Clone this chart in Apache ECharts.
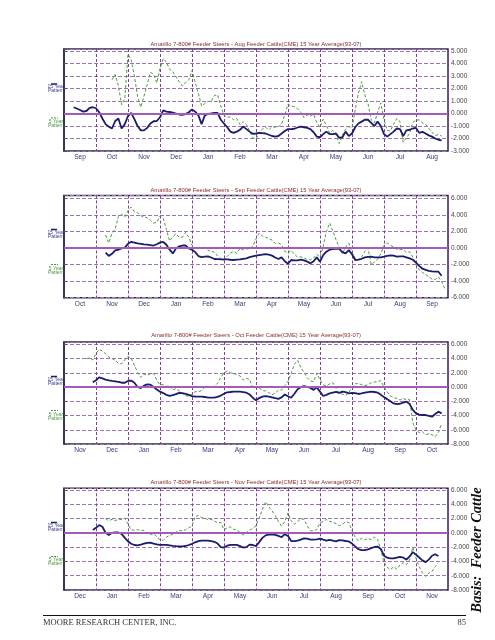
<!DOCTYPE html>
<html><head><meta charset="utf-8">
<script src="https://cdn.jsdelivr.net/npm/echarts@6.0.0/dist/echarts.min.js"></script>
<style>html,body{margin:0;padding:0;background:#fff}#c{width:495px;height:640px}</style>
</head><body><div id="c"></div>
<script>
// ---- DATA ----
const STEP = 0.1; // observation spacing, in months of the contract season
const monthsAug = ['Sep','Oct','Nov','Dec','Jan','Feb','Mar','Apr','May','Jun','Jul','Aug'];
const monthsSep = ['Oct','Nov','Dec','Jan','Feb','Mar','Apr','May','Jun','Jul','Aug','Sep'];
const monthsOct = ['Nov','Dec','Jan','Feb','Mar','Apr','May','Jun','Jul','Aug','Sep','Oct'];
const monthsNov = ['Dec','Jan','Feb','Mar','Apr','May','Jun','Jul','Aug','Sep','Oct','Nov'];
const titles = [
  'Amarillo 7-800# Feeder Steers - Aug Feeder Cattle(CME) 15 Year Average(93-07)',
  'Amarillo 7-800# Feeder Steers - Sep Feeder Cattle(CME) 15 Year Average(93-07)',
  'Amarillo 7-800# Feeder Steers - Oct Feeder Cattle(CME) 15 Year Average(93-07)',
  'Amarillo 7-800# Feeder Steers - Nov Feeder Cattle(CME) 15 Year Average(93-07)'
];
const legend15 = ['15 Year', 'Pattern'];
const legend5 = ['5 Year', 'Pattern'];

// series start (month offset) and values
const aug15Start = 0.3;
const aug15 = [0.5,0.4,0.28,0.15,0.2,0.45,0.5,0.42,0.1,-0.4,
 -0.85,-1.05,-1.2,-0.6,-0.4,-1.2,-0.85,-0.2,0.05,-0.45,
 -1.0,-1.35,-1.35,-1.15,-0.8,-0.62,-0.6,-0.3,0.25,0.15,
 0.12,0.07,0.0,-0.08,-0.1,-0.05,0.1,0.33,0.15,-0.15,
 -0.85,-0.15,-0.03,0.0,0.05,0.05,-0.5,-0.8,-1.1,-1.45,
 -1.55,-1.45,-1.3,-1.05,-1.25,-1.45,-1.62,-1.6,-1.55,-1.57,
 -1.6,-1.7,-1.8,-1.85,-1.8,-1.6,-1.4,-1.25,-1.25,-1.22,
 -1.12,-1.05,-1.1,-1.15,-1.25,-1.5,-1.85,-1.9,-1.65,-1.45,
 -1.65,-1.65,-1.6,-1.95,-1.9,-1.45,-1.8,-1.6,-1.1,-0.8,
 -0.65,-0.5,-0.5,-0.75,-1.0,-0.65,-1.0,-1.65,-1.85,-1.65,
 -1.45,-1.2,-1.25,-1.8,-1.35,-1.3,-1.2,-1.15,-1.55,-1.47,
 -1.6,-1.75,-1.85,-2.0,-2.1,-2.15];
const aug5Start = 1.5;
const aug5 = [2.7,3.13,2.2,0.7,1.2,4.75,4.3,3.0,1.35,0.5,
 1.4,2.3,3.3,3.15,2.45,3.6,4.4,4.1,3.55,3.35,
 2.95,2.55,2.2,2.47,2.7,3.45,2.5,1.6,0.6,0.8,
 0.97,0.95,1.45,1.5,0.6,-0.15,-0.3,-0.28,-0.5,-0.4,
 -0.9,-0.65,-0.88,-1.4,-1.95,-2.05,-1.5,-1.25,-1.1,-1.3,
 -1.05,-1.1,-1.05,-0.85,-0.1,0.75,0.6,0.55,0.38,0.1,
 -0.35,-0.12,-0.2,-0.05,-0.75,-1.1,-0.45,-0.95,-1.55,-1.35,
 -1.7,-2.4,-1.7,-1.25,-1.05,-1.15,0.3,1.6,2.55,1.5,
 0.8,-0.5,-0.75,0.1,0.85,-0.5,-1.35,-1.4,-0.85,-0.4,
 -0.65,-2.3,-1.95,-1.6,-0.7,-0.55,-0.5,-0.75,-0.85,-1.2,
 -1.5,-1.75,-1.7,-1.8];
const sep15Start = 1.3;
const sep15 = [-0.56,-0.95,-0.7,-0.3,-0.2,-0.05,0.05,0.5,0.75,0.65,
 0.55,0.5,0.43,0.4,0.35,0.3,0.45,0.65,0.73,0.4,
 -0.2,-0.65,-0.05,0.2,0.3,0.3,-0.05,-0.2,-0.5,-0.97,
 -1.1,-1.05,-1.0,-1.15,-1.33,-1.35,-1.37,-1.37,-1.38,-1.42,
 -1.45,-1.4,-1.37,-1.3,-1.25,-1.1,-1.0,-0.92,-0.85,-0.8,
 -0.75,-0.8,-0.92,-1.15,-1.33,-1.13,-1.6,-1.9,-1.45,-1.5,
 -1.5,-1.4,-1.5,-1.65,-1.85,-1.6,-1.13,-1.65,-0.85,-0.45,
 -0.2,-0.12,-0.08,-0.1,-0.5,-0.65,-0.25,-0.75,-1.45,-1.4,
 -1.3,-1.13,-1.08,-1.05,-1.13,-1.13,-1.13,-1.05,-0.95,-0.88,
 -0.92,-1.05,-1.0,-1.0,-1.12,-1.25,-1.42,-1.75,-2.15,-2.5,
 -2.65,-2.75,-2.82,-2.86,-2.86,-3.35];
const sep5Start = 1.3;
const sep5 = [1.57,0.6,1.8,2.3,3.79,4.07,3.75,4.5,4.95,4.4,
 4.25,3.9,3.75,3.65,3.35,3.0,3.1,3.9,3.59,2.25,
 0.85,1.37,1.7,1.3,1.3,1.9,1.3,0.3,0.0,0.16,
 -0.04,0.1,-0.3,-0.4,-0.5,-0.95,-1.3,-1.5,-1.0,-0.6,
 -0.4,-0.65,-0.04,-0.24,-0.1,-0.1,0.2,1.1,1.8,1.45,
 1.3,1.15,0.95,0.56,0.6,0.4,-0.4,-0.6,-0.3,-0.75,
 -1.1,-1.07,-1.2,-1.4,-1.43,-1.2,-0.75,-1.1,0.2,2.0,
 3.0,2.1,1.0,0.1,-0.7,0.1,0.6,-0.55,-1.27,-1.45,
 -1.05,-0.4,0.0,-2.0,-1.7,-1.35,-0.7,0.3,0.6,0.35,
 0.1,-0.15,-0.15,-0.2,-0.55,-0.45,-1.1,-2.0,-2.65,-2.95,
 -3.2,-3.47,-3.75,-3.8,-3.5,-4.07,-4.88];
const oct15Start = 0.9;
const oct15 = [0.66,0.95,1.35,1.2,1.05,0.93,0.86,0.8,0.72,0.6,
 0.6,0.85,0.9,0.6,0.0,-0.15,0.2,0.38,0.34,0.0,
 -0.35,-0.65,-0.85,-1.1,-1.24,-1.14,-1.0,-0.82,-0.87,-0.96,
 -1.1,-1.27,-1.33,-1.36,-1.36,-1.4,-1.5,-1.5,-1.5,-1.38,
 -1.2,-0.95,-0.74,-0.7,-0.65,-0.65,-0.65,-0.72,-0.8,-1.05,
 -1.5,-1.87,-1.55,-1.35,-1.27,-1.35,-1.45,-1.57,-1.67,-1.45,
 -1.05,-1.3,-1.5,-0.95,-0.3,-0.02,0.12,0.02,-0.12,-0.4,
 -0.05,-0.65,-1.26,-1.1,-0.9,-0.78,-0.67,-0.83,-0.65,-0.72,
 -0.89,-0.82,-0.87,-0.98,-0.9,-0.8,-0.72,-0.66,-0.7,-0.78,
 -1.1,-1.42,-1.7,-2.0,-2.3,-2.4,-2.35,-2.2,-2.05,-2.4,
 -3.2,-3.7,-3.88,-3.93,-3.93,-4.05,-4.17,-3.79,-3.46,-3.7];
const oct5Start = 0.7;
const oct5 = [4.0,4.05,3.8,4.7,5.27,5.05,4.65,4.22,4.0,3.77,
 3.32,3.25,3.8,4.3,4.0,3.05,2.05,1.35,1.8,1.65,
 1.85,1.9,0.98,0.3,0.33,0.08,0.2,-0.42,-0.22,-0.55,
 -0.9,-1.2,-1.33,-1.05,-0.65,-0.65,-0.5,-0.05,-0.05,-0.1,
 0.1,0.55,1.35,2.0,2.25,2.0,1.9,1.78,1.55,0.98,
 1.2,1.1,-0.2,-0.05,-0.15,-0.5,-0.55,-0.8,-1.1,-0.85,
 -0.42,-0.42,0.2,0.8,1.9,3.2,3.75,2.75,2.05,1.3,
 0.85,0.75,1.92,1.0,0.3,0.15,0.45,0.6,-0.2,-0.9,
 -1.0,-1.2,-0.8,0.0,0.45,0.5,0.32,0.2,0.3,0.6,
 0.7,0.75,0.9,0.0,-0.7,-1.25,-1.5,-1.59,-1.83,-1.59,
 -1.8,-1.75,-5.0,-6.04,-6.4,-6.28,-6.7,-6.55,-6.7,-6.95,
 -6.4,-5.1];
const nov15Start = 0.9;
const nov15 = [0.4,0.7,1.08,0.85,0.0,-0.3,0.0,0.05,0.05,-0.14,
 -0.7,-1.18,-1.52,-1.7,-1.76,-1.65,-1.5,-1.4,-1.37,-1.5,
 -1.6,-1.69,-1.69,-1.69,-1.75,-1.82,-1.87,-1.91,-1.88,-1.84,
 -1.7,-1.53,-1.32,-1.15,-1.08,-1.08,-1.08,-1.15,-1.25,-1.5,
 -2.0,-2.05,-1.8,-1.69,-1.69,-1.69,-1.85,-2.05,-2.0,-1.65,
 -1.7,-1.85,-1.3,-0.7,-0.35,-0.25,-0.2,-0.28,-0.42,-0.61,
 -0.18,-0.45,-1.15,-1.15,-1.09,-0.95,-0.78,-0.82,-0.95,-0.95,
 -0.9,-0.8,-0.95,-1.08,-0.98,-1.1,-1.2,-1.02,-1.05,-1.14,
 -1.2,-1.5,-1.9,-2.29,-2.42,-2.42,-2.3,-2.13,-1.98,-1.92,
 -2.25,-3.2,-3.48,-3.56,-3.56,-3.45,-3.35,-3.46,-3.75,-3.3,
 -2.7,-3.05,-3.45,-3.85,-4.1,-3.75,-3.2,-3.0,-3.25];
const nov5Start = 1.3;
const nov5 = [2.0,1.7,1.9,1.7,1.92,1.85,2.05,1.25,0.4,0.38,
 0.45,0.35,0.35,-0.1,-0.25,-0.1,-0.51,-0.98,-1.05,-0.6,
 -0.35,-0.2,0.1,0.35,0.25,0.45,0.68,1.0,2.3,2.43,
 2.15,2.07,1.85,1.9,1.65,1.42,1.45,0.45,0.7,0.85,
 0.5,0.42,0.05,-0.28,0.02,0.38,0.62,1.0,2.1,3.3,
 4.35,3.65,3.1,2.45,1.6,0.95,1.6,2.8,1.7,1.2,
 1.6,1.95,1.9,1.0,0.3,0.3,0.47,1.4,1.6,1.88,
 1.62,1.48,1.3,1.0,1.2,1.55,1.45,0.3,-0.6,-1.12,
 -0.75,-0.98,-0.77,-0.95,-0.6,-0.9,-2.39,-4.1,-4.8,-5.15,
 -4.75,-5.1,-4.49,-4.17,-4.45,-3.8,-2.0,-3.56,-4.73,-5.6,
 -6.1,-5.63,-5.4,-4.73,-4.2];

// ---- LAYOUT / STYLE ----
const panels = [
  {months: monthsAug, p15: aug15, s15: aug15Start, p5: aug5, s5: aug5Start, min:-3, max:5.16, interval:1, top:49, height:102, titleY:44, leg:[84,87,91,118,122,126]},
  {months: monthsSep, p15: sep15, s15: sep15Start, p5: sep5, s5: sep5Start, min:-6, max:6.34, interval:2, top:195.5, height:102.2, titleY:190, leg:[229.5,233,236.5,264.5,268.3,272.7]},
  {months: monthsOct, p15: oct15, s15: oct15Start, p5: oct5, s5: oct5Start, min:-8, max:6.32, interval:2, top:342, height:102, titleY:335, leg:[376.5,380,383.5,410.5,414.3,418.3]},
  {months: monthsNov, p15: nov15, s15: nov15Start, p5: nov5, s5: nov5Start, min:-8, max:6.24, interval:2, top:488.3, height:101.7, titleY:482.7, leg:[522.5,526,529.3,556.5,560,564]}
];
const NAVY = '#1c1c6c', GREEN = '#4f9a3f', GRIDC = '#a174b4', VGRID = '#7d3f98', ZERO = '#a45cb8', BOX = '#2a2a4a';
const toPts = (vals, start) => vals.map((v, i) => [+(start + i * STEP).toFixed(2), v]);

const grids = [], xAxes = [], yAxes = [], series = [], graphics = [];
panels.forEach((p, i) => {
  grids.push({left: 64, width: 384, top: p.top, height: p.height, show: true, borderColor: BOX, borderWidth: 1.5, backgroundColor: '#fff'});
  xAxes.push({type: 'category', gridIndex: i, data: p.months, boundaryGap: true,
    axisLine: {show: true, lineStyle: {color: BOX, width: 1.5}}, axisTick: {show: false},
    axisLabel: {fontSize: 6.6, color: '#3b3b7a', margin: 3, interval: 0, fontFamily: 'Liberation Sans'},
    splitLine: {show: true, interval: 0, lineStyle: {color: VGRID, type: [3, 2], width: 1}}});
  xAxes.push({type: 'value', gridIndex: i, min: 0, max: 12, show: false});
  yAxes.push({type: 'value', gridIndex: i, position: 'right', min: p.min, max: p.max, interval: p.interval,
    axisLine: {show: true, lineStyle: {color: BOX, width: 1.5}},
    axisTick: {show: true, inside: false, length: 3, lineStyle: {color: '#555'}},
    axisLabel: {fontSize: 6.5, color: '#444', margin: 3, fontFamily: 'Liberation Sans',
      formatter: v => Math.abs(v / p.interval - Math.round(v / p.interval)) > 1e-6 ? '' : v.toFixed(3)},
    splitLine: {show: true, lineStyle: {color: GRIDC, type: [4, 2], width: 1.2}}});
  series.push({type: 'line', xAxisIndex: 2 * i + 1, yAxisIndex: i, data: toPts(p.p5, p.s5), showSymbol: false,
    lineStyle: {color: GREEN, width: 1, type: [3, 2]}, z: 2, silent: true,
    markLine: {silent: true, symbol: 'none', label: {show: false}, data: [{yAxis: 0}],
      lineStyle: {color: ZERO, width: 2.2, type: 'solid'}}});
  series.push({type: 'line', xAxisIndex: 2 * i + 1, yAxisIndex: i, data: toPts(p.p15, p.s15), showSymbol: false,
    lineStyle: {color: NAVY, width: 1.8}, z: 3, silent: true});
  graphics.push({type: 'text', x: 256, y: p.titleY, style: {text: titles[i], fill: '#8b2b2b', font: '5.8px "Liberation Sans"', align: 'center', verticalAlign: 'middle'}});
  const L = p.leg;
  graphics.push({type: 'line', shape: {x1: 51, y1: L[0], x2: 57, y2: L[0]}, style: {stroke: NAVY, lineWidth: 1.5}});
  graphics.push({type: 'text', x: 56, y: L[1], style: {text: legend15[0], fill: '#3a3a8a', font: '5px "Liberation Sans"', align: 'center', verticalAlign: 'middle'}});
  graphics.push({type: 'text', x: 56, y: L[2], style: {text: legend15[1], fill: '#3a3a8a', font: '5px "Liberation Sans"', align: 'center', verticalAlign: 'middle'}});
  graphics.push({type: 'line', shape: {x1: 51, y1: L[3], x2: 58, y2: L[3]}, style: {stroke: GREEN, lineWidth: 1, lineDash: [2, 1]}});
  graphics.push({type: 'text', x: 56, y: L[4], style: {text: legend5[0], fill: '#4f9a3f', font: '5px "Liberation Sans"', align: 'center', verticalAlign: 'middle'}});
  graphics.push({type: 'text', x: 56, y: L[5], style: {text: legend5[1], fill: '#4f9a3f', font: '5px "Liberation Sans"', align: 'center', verticalAlign: 'middle'}});
});
graphics.push({type: 'line', shape: {x1: 43, y1: 615.5, x2: 466, y2: 615.5}, style: {stroke: '#111', lineWidth: 1}});
graphics.push({type: 'text', x: 43, y: 623, style: {text: 'MOORE RESEARCH CENTER, INC.', fill: '#333', font: '8.5px "Liberation Serif"', align: 'left', verticalAlign: 'middle'}});
graphics.push({type: 'text', x: 466, y: 623, style: {text: '85', fill: '#333', font: '8.5px "Liberation Serif"', align: 'right', verticalAlign: 'middle'}});
graphics.push({type: 'text', x: 477.5, y: 550, rotation: Math.PI / 2, style: {text: 'Basis:  Feeder Cattle', fill: '#111', font: 'italic bold 14.5px "Liberation Serif"', align: 'center', verticalAlign: 'middle'}});

const chart = echarts.init(document.getElementById('c'), null, {renderer: 'canvas'});
chart.setOption({animation: false, backgroundColor: '#fff', grid: grids, xAxis: xAxes, yAxis: yAxes, series: series, graphic: graphics});
</script></body></html>
